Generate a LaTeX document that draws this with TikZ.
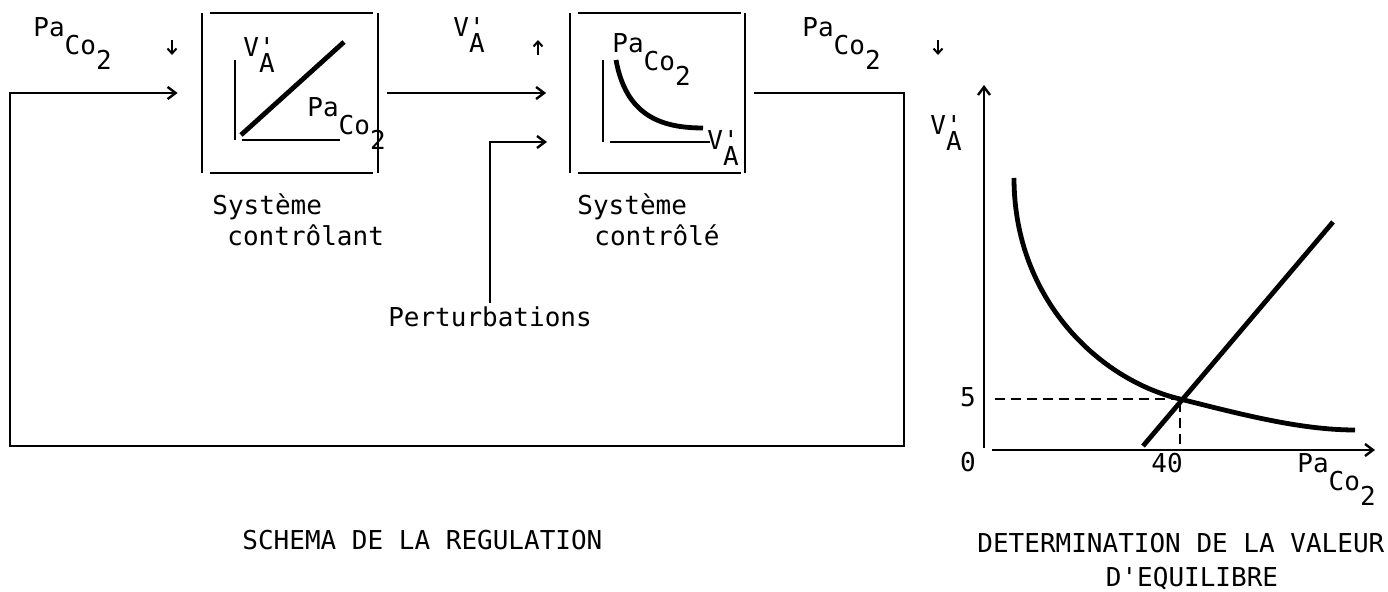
\documentclass[tikz,border=0pt]{standalone}
\usepackage{fontspec}
\newfontfamily\mono{DejaVu Sans Mono}
\usetikzlibrary{arrows.meta}
\newcommand\paco{Pa\raisebox{-9pt}{Co\raisebox{-7.5pt}{2}}}
\newcommand\vpa{V\rlap{'}\raisebox{-8pt}{A}}
\begin{document}
\begin{tikzpicture}[x=0.5pt,y=-0.5pt,
 ln/.style={line width=1.2pt},
 thk/.style={line width=2.4pt},
 arr/.style={ln,-{Straight Barb[length=4pt,width=6pt]}},
 sarr/.style={line width=1pt,-{Straight Barb[length=2.5pt,width=4.5pt]}},
 txt/.style={inner sep=0pt,anchor=base west,font=\mono\fontsize{13}{15}\selectfont},
 ctxt/.style={inner sep=0pt,anchor=base,font=\mono\fontsize{13}{15}\selectfont},
 box/.style={draw=none,minimum width=88pt,minimum height=80pt,inner sep=0pt},
 dsh/.style={line width=1pt,dash pattern=on 5pt off 3pt}]
\useasboundingbox (0,0) rectangle (1388,592);
% boxes
\node[box] (b1) at (290,93) {};
\node[box] (b2) at (657.5,93) {};
\draw[ln] (202,13) -- (202,173) (210,13) -- (373,13) (210,173) -- (373,173) (378,13) -- (378,173);
\draw[ln] (570,13) -- (570,173) (578,13) -- (741,13) (578,173) -- (741,173) (745,13) -- (745,173);
% inside box 1
\draw[ln] (235,60) -- (235,140) (242,140) -- (340,140);
\draw[thk] (241,135) -- (344,42);
\node[txt] at (243,57) {\vpa};
\node[txt] at (307,117) {\paco};
% inside box 2
\draw[ln] (603,60) -- (603,142) (610,142) -- (710,142);
\draw[thk] (616,60) .. controls (626,115) and (660,128) .. (703,128);
\node[txt] at (612,53) {\paco};
\node[txt] at (707,150) {\vpa};
% labels
\node[txt] at (33,37) {\paco};
\draw[sarr] (172,40) -- (172,55);
\node[txt] at (453,37) {\vpa};
\draw[sarr] (538,55) -- (538,40);
\node[txt] at (802,37) {\paco};
\draw[sarr] (938,40) -- (938,55);
\node[txt] at (212,215) {Système};
\node[txt] at (227,246) {contrôlant};
\node[txt] at (577,215) {Système};
\node[txt] at (594,246) {contrôlé};
\node[ctxt,inner sep=2pt] (pert) at (490,327) {Perturbations};
% connectors
\coordinate (r1) at (904,93);
\coordinate (r2) at (904,446);
\coordinate (l2) at (10,446);
\coordinate (l1) at (10,93);
\coordinate (pk) at (570,142);
\draw[arr,shorten <=4pt,shorten >=12pt] (b2.east) -- (r1) -- (r2) -- (l2) -- (l1) -- (b1.west);
\draw[arr,shorten <=4.5pt,shorten >=11.5pt] (b1.east) -- (b2.west);
\draw[arr,shorten >=11.5pt] (pert.north) |- (pk);
% chart
\draw[arr] (984,448) -- (984,85);
\draw[arr] (992,450) -- (1375,450);
\draw[dsh] (995,399) -- (1180,399);
\draw[dsh] (1180,402) -- (1180,446);
\draw[thk] (1143,446) -- (1333,222);
\draw[thk] (1014,178) .. controls (1014,300) and (1100,380) .. (1180,399)
  .. controls (1240,414) and (1300,430) .. (1355,430);
\node[txt] at (930,135) {\vpa};
\node[ctxt] at (968,407) {5};
\node[ctxt] at (968,472) {0};
\node[ctxt] at (1167,473) {40};
\node[txt] at (1297,473) {\paco};
% titles
\node[txt] at (242,550) {SCHEMA DE LA REGULATION};
\node[txt] at (977,553) {DETERMINATION DE LA VALEUR};
\node[ctxt] at (1192,587) {D'EQUILIBRE};
\end{tikzpicture}
\end{document}
